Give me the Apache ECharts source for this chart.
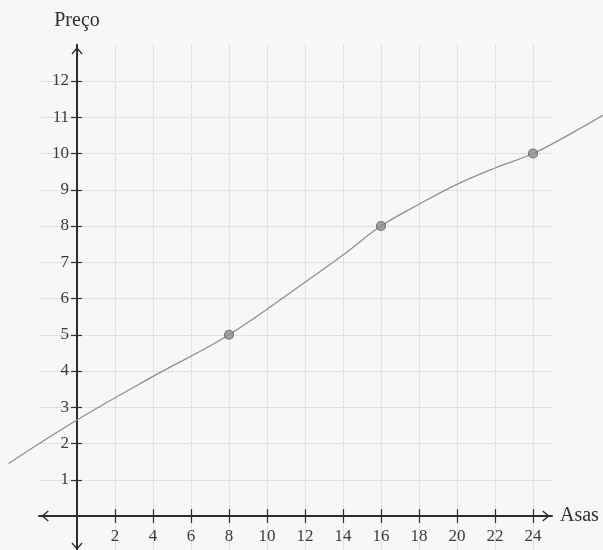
<!DOCTYPE html>
<html>
<head>
<meta charset="utf-8">
<script src="https://cdn.jsdelivr.net/npm/echarts@6/dist/echarts.min.js"></script>
<style>
  html, body { margin: 0; padding: 0; background: #f7f8f6; }
  #chart { width: 603px; height: 550px; }
</style>
</head>
<body>
<div id="chart"></div>
<script>
// Price against number of wings: three measured points and the fitted curve
const pointX = [8, 16, 24];
const pointY = [5, 8, 10];

// fitted curve, sampled along its length
const curveX = [-3.6, 0, 4, 8, 12, 14, 16, 18, 20, 22, 24, 26, 28];
const curveY = [1.45, 2.65, 3.85, 5, 6.45, 7.2, 8, 8.6, 9.15, 9.6, 10, 10.55, 11.15];

// labelled tick positions
const xTicks = [2, 4, 6, 8, 10, 12, 14, 16, 18, 20, 22, 24];
const yTicks = [1, 2, 3, 4, 5, 6, 7, 8, 9, 10, 11, 12];

const xName = 'Asas';
const yName = 'Preço';

const inkColor = '#2e2e2e';
const labelColor = '#3a3a3a';
const gridColor = '#d9dad8';
const serif = 'Liberation Serif';

// open chevron arrow head, pointing up in symbol space
const chevron = 'path://M0,0 L6,7.2 L5,8.2 L0,2.4 L-5,8.2 L-6,7.2 Z';

// plotting scale shared by both grids
const PX_X = 19, PX_Y = 36.25, ORIGIN_X = 77, ORIGIN_Y = 516;
const X_MIN = -2, X_MAX = 25, Y_MIN = -1, Y_MAX = 13;
const WIDE_X_MIN = -4, WIDE_X_MAX = 28;

const gridLeft = ORIGIN_X + X_MIN * PX_X;
const gridTop = ORIGIN_Y - Y_MAX * PX_Y;
const gridBottomEdge = ORIGIN_Y - Y_MIN * PX_Y;
const gridHeight = (Y_MAX - Y_MIN) * PX_Y;

// the axes cross at the origin: shift them in from the frame edges
const xAxisShift = ORIGIN_Y - gridBottomEdge;   // bottom axis, + moves down
const yAxisShift = gridLeft - ORIGIN_X;         // left axis, + moves left

const chart = echarts.init(document.getElementById('chart'), null, { renderer: 'canvas' });

function tickAxisX(extra) {
  return Object.assign({
    type: 'value', gridIndex: 0, min: X_MIN, max: X_MAX, interval: 1,
    position: 'bottom', offset: xAxisShift,
    axisLine: { show: false, onZero: false },
    axisTick: { show: true, customValues: xTicks, length: 7, lineStyle: { color: inkColor, width: 1.2 } },
    axisLabel: { show: false },
    splitLine: { show: false }
  }, extra);
}
function tickAxisY(extra) {
  return Object.assign({
    type: 'value', gridIndex: 0, min: Y_MIN, max: Y_MAX, interval: 1,
    position: 'left', offset: yAxisShift,
    axisLine: { show: false, onZero: false },
    axisTick: { show: true, customValues: yTicks, length: 6, lineStyle: { color: inkColor, width: 1.2 } },
    axisLabel: { show: false },
    splitLine: { show: false }
  }, extra);
}

const option = {
  backgroundColor: '#f7f8f6',
  animation: false,
  grid: [
    {
      left: gridLeft, width: (X_MAX - X_MIN) * PX_X,
      top: gridTop, height: gridHeight,
      containLabel: false, outerBoundsMode: 'none'
    },
    {
      left: ORIGIN_X + WIDE_X_MIN * PX_X, width: (WIDE_X_MAX - WIDE_X_MIN) * PX_X,
      top: gridTop, height: gridHeight,
      containLabel: false, outerBoundsMode: 'none'
    }
  ],
  xAxis: [
    tickAxisX({
      name: xName,
      nameLocation: 'end',
      nameGap: 8,
      nameTextStyle: { fontFamily: serif, fontSize: 20, color: inkColor, verticalAlign: 'middle', padding: [0, 0, 5, 0] },
      axisLine: {
        show: true, onZero: false,
        symbol: [chevron, chevron], symbolSize: [11, 12], symbolOffset: [6, -6],
        lineStyle: { color: inkColor, width: 2 }
      },
      axisLabel: {
        show: true, customValues: xTicks, margin: 12,
        fontFamily: serif, fontSize: 17, color: labelColor
      },
      splitLine: { show: true, lineStyle: { color: gridColor, width: 1, type: [3, 1] } }
    }),
    tickAxisX({ axisTick: { show: true, inside: true, customValues: xTicks, length: 7, lineStyle: { color: inkColor, width: 1.2 } } }),
    // wider hidden scale carrying the fitted curve past the plotted frame
    {
      type: 'value', gridIndex: 1, min: WIDE_X_MIN, max: WIDE_X_MAX, show: false
    }
  ],
  yAxis: [
    tickAxisY({
      name: yName,
      nameLocation: 'end',
      nameGap: 14,
      nameTextStyle: { fontFamily: serif, fontSize: 20, color: inkColor, align: 'center' },
      axisLine: {
        show: true, onZero: false,
        symbol: [chevron, chevron], symbolSize: [11, 12], symbolOffset: [6, -6],
        lineStyle: { color: inkColor, width: 2 }
      },
      axisTick: { show: true, customValues: yTicks, length: 6, lineStyle: { color: inkColor, width: 1.2 } },
      axisLabel: {
        show: true, customValues: yTicks, margin: 8,
        fontFamily: serif, fontSize: 17, color: labelColor
      },
      splitLine: { show: true, lineStyle: { color: gridColor, width: 1, type: [3, 1] } }
    }),
    tickAxisY({ axisTick: { show: true, inside: true, customValues: yTicks, length: 5, lineStyle: { color: inkColor, width: 1.2 } } }),
    {
      type: 'value', gridIndex: 1, min: Y_MIN, max: Y_MAX, show: false
    }
  ],
  series: [
    {
      type: 'line',
      xAxisIndex: 2, yAxisIndex: 2,
      data: curveX.map((x, i) => [x, curveY[i]]),
      smooth: 0.4,
      clip: false,
      showSymbol: false,
      lineStyle: { color: '#8e8f8d', width: 1.3 },
      z: 3
    },
    {
      type: 'scatter',
      xAxisIndex: 0, yAxisIndex: 0,
      data: pointX.map((x, i) => [x, pointY[i]]),
      symbol: 'circle',
      symbolSize: 9,
      itemStyle: { color: '#8c8c8c', borderColor: '#5e5e5e', borderWidth: 1.2 },
      z: 4
    }
  ]
};

chart.setOption(option);
</script>
</body>
</html>
